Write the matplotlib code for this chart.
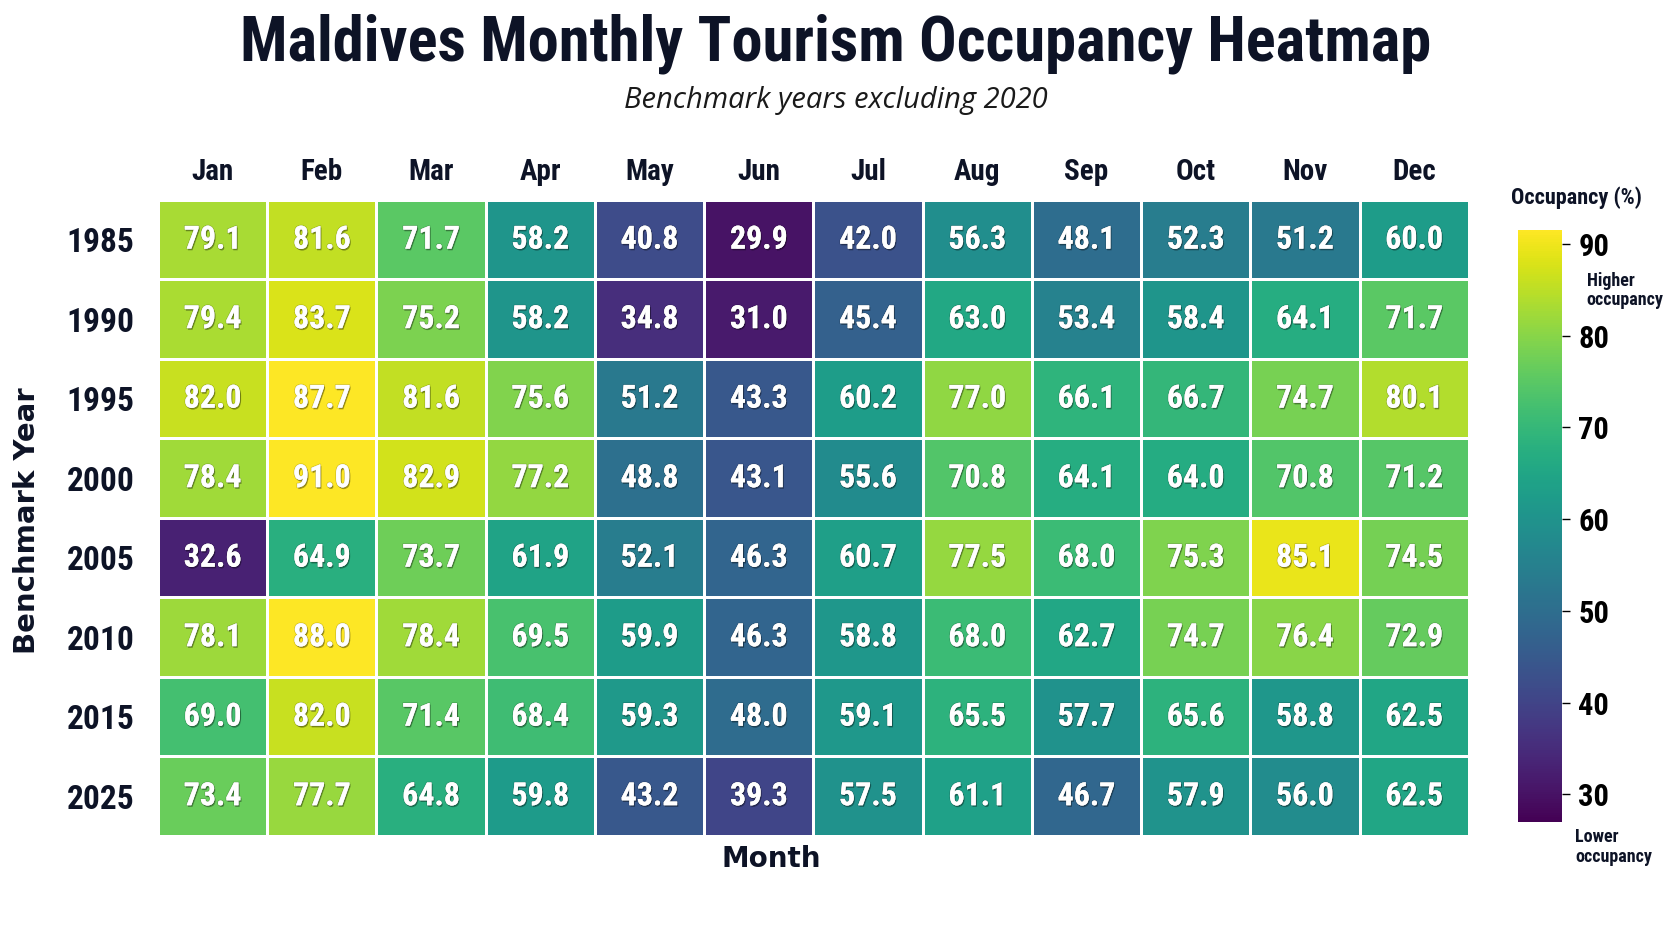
import os

import matplotlib
import numpy as np

matplotlib.use("Agg")
import matplotlib.pyplot as plt
import matplotlib.patheffects as pe
from matplotlib import cm, colors
from matplotlib import font_manager as fm


MONTHS = ["Jan", "Feb", "Mar", "Apr", "May", "Jun",
          "Jul", "Aug", "Sep", "Oct", "Nov", "Dec"]
YEARS = ["1985", "1990", "1995", "2000", "2005", "2010", "2015", "2025"]

OCC_1985 = [79.1, 81.6, 71.7, 58.2, 40.8, 29.9, 42.0, 56.3, 48.1, 52.3, 51.2, 60.0]
OCC_1990 = [79.4, 83.7, 75.2, 58.2, 34.8, 31.0, 45.4, 63.0, 53.4, 58.4, 64.1, 71.7]
OCC_1995 = [82.0, 87.7, 81.6, 75.6, 51.2, 43.3, 60.2, 77.0, 66.1, 66.7, 74.7, 80.1]
OCC_2000 = [78.4, 91.0, 82.9, 77.2, 48.8, 43.1, 55.6, 70.8, 64.1, 64.0, 70.8, 71.2]
OCC_2005 = [32.6, 64.9, 73.7, 61.9, 52.1, 46.3, 60.7, 77.5, 68.0, 75.3, 85.1, 74.5]
OCC_2010 = [78.1, 88.0, 78.4, 69.5, 59.9, 46.3, 58.8, 68.0, 62.7, 74.7, 76.4, 72.9]
OCC_2015 = [69.0, 82.0, 71.4, 68.4, 59.3, 48.0, 59.1, 65.5, 57.7, 65.6, 58.8, 62.5]
OCC_2025 = [73.4, 77.7, 64.8, 59.8, 43.2, 39.3, 57.5, 61.1, 46.7, 57.9, 56.0, 62.5]

CBAR_TICKS = [30, 40, 50, 60, 70, 80, 90]

DARK = "#0d1326"


def find_font(patterns):
    files = {os.path.basename(f.fname).lower(): f.fname for f in fm.fontManager.ttflist}
    for pat in patterns:
        for base, path in files.items():
            if base.startswith(pat.lower()):
                return path
    return None


BOLD_PATH = find_font(["RobotoCondensed-Bold", "LiberationSansNarrow-Bold.",
                       "DejaVuSansCondensed-Bold.", "Roboto-Bold."])


def bold(size):
    if BOLD_PATH:
        return fm.FontProperties(fname=BOLD_PATH, size=size)
    return fm.FontProperties(family="DejaVu Sans", weight="bold", size=size)


data = np.array([OCC_1985, OCC_1990, OCC_1995, OCC_2000,
                 OCC_2005, OCC_2010, OCC_2015, OCC_2025])

fig = plt.figure(figsize=(16.72, 9.41), dpi=100)
ax = fig.add_axes([0.0945, 0.1116, 0.784, 0.676])
cax = fig.add_axes([0.908, 0.1265, 0.026, 0.629])

# cells run a bit warmer than the bar scale, like the original
mesh = ax.pcolormesh(data, cmap="viridis", vmin=27, vmax=87,
                     edgecolors="white", linewidth=2)
ax.set_xlim(0, len(MONTHS))
ax.set_ylim(len(YEARS), 0)

shadow = [pe.withSimplePatchShadow(offset=(0.8, -1.2), shadow_rgbFace="black", alpha=0.35),
          pe.withStroke(linewidth=1.2, foreground=(0, 0, 0, 0.15))]
for i in range(len(YEARS)):
    for j in range(len(MONTHS)):
        ax.text(j + 0.5, i + 0.5, f"{data[i, j]:.1f}", ha="center", va="center",
                color="white", fontproperties=bold(23), path_effects=shadow)

ax.xaxis.tick_top()
ax.set_xticks(np.arange(len(MONTHS)) + 0.5)
ax.set_xticklabels(MONTHS, fontproperties=bold(21), color=DARK)
ax.set_yticks(np.arange(len(YEARS)) + 0.5)
ax.set_yticklabels(YEARS, fontproperties=bold(24), color=DARK)
ax.tick_params(axis="x", length=0, pad=10)
ax.tick_params(axis="y", length=0, pad=17)
for s in ax.spines.values():
    s.set_visible(False)

fig.text(0.016, 0.447, "Benchmark Year", rotation=90, ha="center", va="center",
         fontsize=21, fontweight="bold", color=DARK, family="DejaVu Sans")
fig.text(0.461, 0.087, "Month", ha="center", va="center", fontsize=20,
         fontweight="bold", color=DARK, family="DejaVu Sans")

fig.text(0.5, 0.954, "Maldives Monthly Tourism Occupancy Heatmap", ha="center",
         va="center", fontproperties=bold(45), color=DARK)
fig.text(0.5, 0.893, "Benchmark years excluding 2020", ha="center", va="center",
         fontsize=21, style="italic", family="Open Sans", color="#1a1a1a")

scale = cm.ScalarMappable(norm=colors.Normalize(vmin=27, vmax=91.5), cmap="viridis")
cbar = fig.colorbar(scale, cax=cax, ticks=CBAR_TICKS)
cbar.outline.set_visible(False)
cax.tick_params(length=6, width=1, pad=6)
for t in cax.get_yticklabels():
    t.set_fontproperties(bold(22))
fig.text(0.943, 0.79, "Occupancy (%)", ha="center", va="center",
         fontproperties=bold(16), color=DARK)
fig.text(0.949, 0.691, "Higher\noccupancy", ha="left", va="center",
         fontproperties=bold(13), color=DARK, linespacing=1.1)
fig.text(0.942, 0.1, "Lower\noccupancy", ha="left", va="center",
         fontproperties=bold(13), color=DARK, linespacing=1.1)

fig.savefig("out.png", dpi=100, facecolor="white")
